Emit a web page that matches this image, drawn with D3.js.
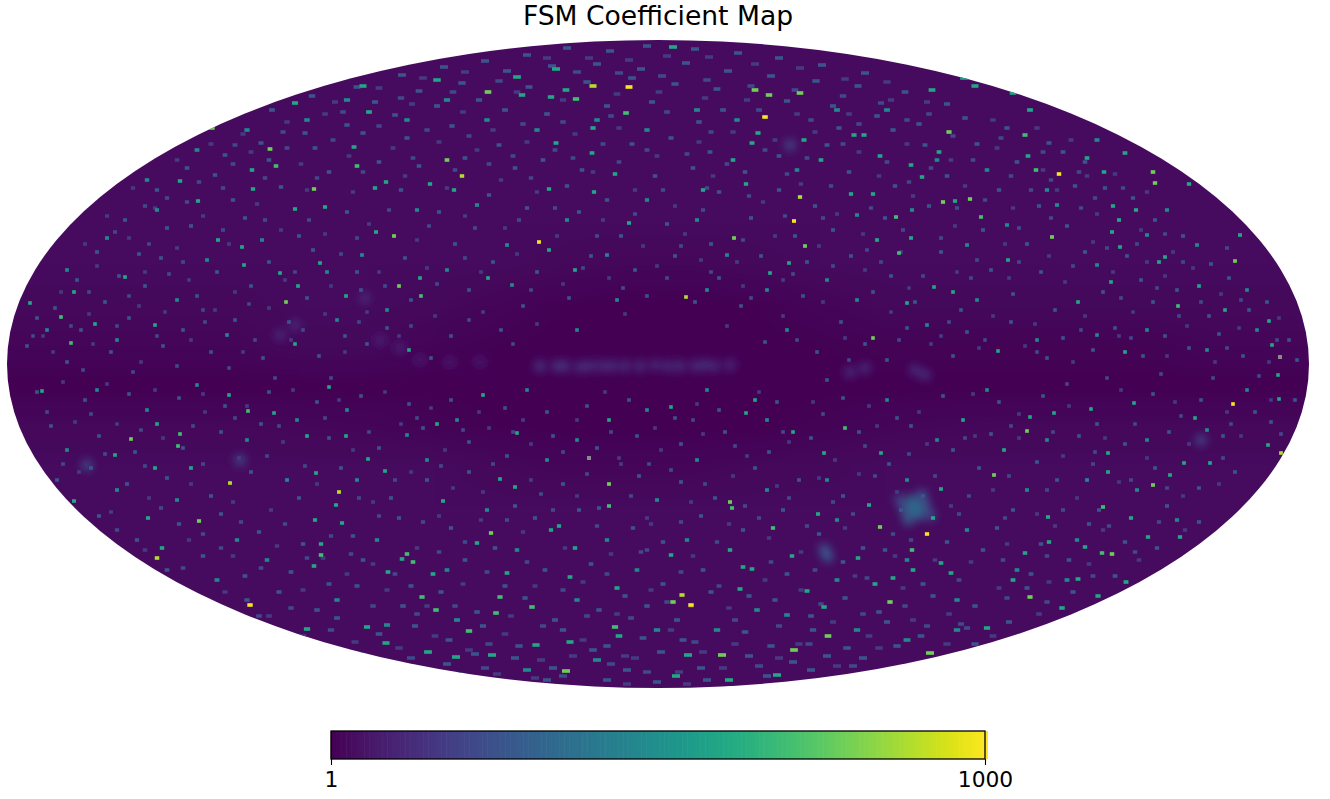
<!DOCTYPE html>
<html><head><meta charset="utf-8">
<script src="https://cdn.jsdelivr.net/npm/d3@7"></script>
<style>html,body{margin:0;background:#fff}svg{display:block}text{font-family:"DejaVu Sans",sans-serif;fill:#000}</style>
</head><body><svg id="c" width="1330" height="799"></svg>
<script>
const titleText = "FSM Coefficient Map";
const colorDomain = [1, 1000];
const colorTicks = [1, 1000];
const unseenColor = "#8a8a8a";
// regional mean coefficient: 16 latitude rows x 20 longitude columns
const regionalMean = [
[1.25,1.25,1.25,1.25,1.25,1.25,1.25,1.25,1.25,1.25,1.25,1.25,1.25,1.25,1.25,1.25,1.25,1.25,1.25,1.25],
[1.25,1.25,1.25,1.25,1.25,1.25,1.25,1.25,1.25,1.25,1.25,1.25,1.25,1.25,1.25,1.25,1.25,1.25,1.25,1.25],
[1.25,1.25,1.25,1.25,1.25,1.25,1.25,1.25,1.25,1.25,1.25,1.25,1.25,1.25,1.25,1.25,1.25,1.25,1.25,1.25],
[1.25,1.25,1.25,1.25,1.25,1.25,1.25,1.25,1.25,1.25,1.25,1.25,1.25,1.25,1.25,1.25,1.25,1.25,1.25,1.25],
[1.25,1.25,1.25,1.25,1.25,1.25,1.25,1.25,1.25,1.25,1.25,1.25,1.25,1.25,1.25,1.25,1.25,1.25,1.25,1.25],
[1.25,1.25,1.25,1.25,1.25,1.25,1.25,1.25,1.2,1.15,1.15,1.2,1.25,1.25,1.25,1.25,1.25,1.25,1.25,1.25],
[1.2,1.2,1.2,1.2,1.25,1.25,1.2,1.1,1.02,1,1,1.02,1.1,1.2,1.2,1.2,1.2,1.2,1.2,1.2],
[1.12,1.12,1.12,1.12,1.2,1.2,1.08,1.02,1,1,1,1,1.02,1.06,1.06,1.06,1.06,1.06,1.12,1.12],
[1,1,1,1,1,1,1,1,1,1,1,1,1,1,1,1,1,1,1,1],
[1.18,1.18,1.18,1.18,1.14,1.12,1.06,1.02,1,1,1,1,1.06,1.12,1.14,1.18,1.18,1.18,1.18,1.18],
[1.25,1.25,1.25,1.25,1.25,1.25,1.25,1.18,1.12,1.12,1.12,1.18,1.2,1.25,1.25,1.25,1.25,1.25,1.25,1.25],
[1.25,1.25,1.25,1.25,1.25,1.25,1.25,1.25,1.25,1.25,1.25,1.25,1.25,1.25,1.25,1.25,1.25,1.25,1.25,1.25],
[1.25,1.25,1.25,1.25,1.25,1.25,1.25,1.25,1.25,1.25,1.25,1.25,1.25,1.25,1.25,1.25,1.25,1.25,1.25,1.25],
[1.25,1.25,1.25,1.25,1.25,1.25,1.25,1.25,1.25,1.25,1.25,1.25,1.25,1.25,1.25,1.25,1.25,1.25,1.25,1.25],
[1.25,1.25,1.25,1.25,1.25,1.25,1.25,1.25,1.25,1.25,1.25,1.25,1.25,1.25,1.25,1.25,1.25,1.25,1.25,1.25],
[1.25,1.25,1.25,1.25,1.25,1.25,1.25,1.25,1.25,1.25,1.25,1.25,1.25,1.25,1.25,1.25,1.25,1.25,1.25,1.25]];
// point sources in map units (0..1302, 0..648)
const peakSources = [[622,47],[532,202],[758,77],[1052,134],[787,181],[920,494],[684,565],[1226,364],[243,565]];
const brightSources = [[586,46],[455,136],[793,157],[675,555],[1274,413],[223,443],[332,452],[150,518],[679,257]];
const greenSources = [[481,52],[440,120],[387,196],[392,246],[307,149],[263,109],[205,88],[279,262],[748,50],[762,55],[793,53],[942,92],[727,198],[798,206],[936,162],[963,159],[1045,197],[1228,221],[866,298],[1146,132],[1148,143],[124,399],[192,481],[484,493],[602,444],[559,631],[723,462],[666,562],[873,487],[1020,391],[987,435],[1146,445],[1105,514],[1023,557],[883,562],[821,596],[787,610],[715,615],[923,613]];
const tealGreenSources = [[414,256],[269,126],[350,126],[569,59],[892,213],[241,371],[173,394],[171,406],[602,466],[838,388],[1096,467],[905,510],[400,514],[406,522],[314,515],[493,557],[462,591],[608,587],[1171,266],[889,177],[974,177],[1029,130],[1018,95],[54,277],[64,303],[525,567],[489,573],[429,570],[415,557],[1095,513],[766,488],[725,468],[619,73]];
const tealSources = [[549,103],[585,113],[542,149],[587,152],[622,183],[608,134],[549,29],[510,37],[430,40],[515,55],[559,50],[544,57],[586,88],[347,107],[245,130],[246,149],[173,141],[191,161],[211,200],[235,207],[313,223],[368,148],[379,142],[423,144],[447,150],[369,192],[542,210],[568,230],[481,238],[413,238],[339,256],[291,246],[273,233],[237,225],[118,237],[67,252],[23,263],[88,284],[148,285],[288,304],[402,310],[288,169],[318,167],[362,72],[288,63],[356,46],
[666,7],[857,95],[847,95],[925,50],[873,116],[932,112],[751,93],[797,100],[1097,132],[1118,113],[1182,144],[948,161],[1105,192],[1106,166],[1129,170],[1233,195],[1112,180],[1113,207],[1104,242],[1152,222],[1158,217],[1001,220],[946,252],[927,247],[900,263],[782,223],[763,233],[696,150],[739,144],[870,200],[904,198],[1071,262],[1192,246],[1218,270],[1262,281],[1265,305],[991,311],[1118,312],[957,38],[968,46],[1023,70],[1006,53],[1021,116],[1080,118],[844,154],[866,154],[915,137],[904,125],[726,120],[745,103],[814,120],
[150,384],[322,347],[222,355],[141,478],[308,480],[329,465],[335,483],[430,384],[436,461],[470,503],[552,486],[508,447],[493,439],[155,508],[314,504],[307,526],[395,519],[381,532],[426,534],[612,596],[563,602],[529,605],[485,615],[421,612],[379,603],[360,587],[300,589],[67,461],[148,428],[108,415],[184,428],[309,433],[378,431],[361,419],[339,396],[300,396],[267,373],[35,351],[476,355],[602,380],[510,393],[568,508],[544,490],[500,533],[563,537],[610,548],[449,617],
[926,478],[811,474],[723,510],[733,549],[745,529],[736,527],[785,516],[786,392],[956,380],[1047,373],[1127,363],[1272,359],[1261,405],[1163,435],[1101,432],[1041,477],[1124,478],[1071,539],[1091,556],[1055,568],[1018,513],[934,449],[862,465],[886,538],[868,544],[851,518],[800,551],[817,567],[669,636],[722,640],[770,635],[874,413],[817,413],[739,373],[664,367],[748,360],[1023,377],[1084,369],[1271,335],[1188,378],[997,410],[1101,413],[1177,423],[1203,423],[1042,502],[1078,507],[1141,497],[1173,497],[934,523],[664,515],[906,530],[944,533],[1119,542],[1006,540],[980,588],[681,615]];
const blueSources = [[100,198],[150,170],[200,220],[255,200],[320,232],[355,215],[410,170],[470,165],[500,205],[560,180],[600,215],[640,160],[690,180],[720,215],[760,250],[820,240],[850,175],[905,170],[960,205],[1000,185],[1050,165],[1090,225],[1140,195],[1190,205],[1240,250],[60,230],[40,290],[110,300],[170,260],[220,295],[330,280],[380,270],[440,230],[505,245],[570,290],[610,260],[700,250],[780,290],[850,260],[920,285],[970,260],[1030,300],[1090,295],[1140,290],[1200,310],[1250,290],[100,120],[140,140],[190,110],[240,90],[300,80],[340,60],[400,80],[440,60],[480,80],[530,90],[590,80],[640,90],[690,70],[730,80],[790,130],[830,70],[880,70],[930,120],[980,130],[1040,150],[1090,100],[1160,170],
[90,350],[140,370],[190,345],[240,400],[290,380],[340,370],[400,395],[450,380],[520,350],[570,400],[640,370],[700,350],[760,380],[820,440],[880,360],[930,400],[980,350],[1040,400],[1080,440],[1140,400],[1200,390],[1240,350],[60,410],[110,450],[170,460],[230,500],[280,440],[350,440],[420,420],[480,470],[540,420],[600,500],[650,460],[690,420],[760,450],[830,480],[900,440],[960,490],[1020,450],[1070,500],[1130,450],[1170,480],[210,540],[260,520],[330,560],[370,500],[440,530],[510,510],[570,560],[630,530],[680,500],[750,570],[830,540],[900,520],[950,560],[1010,530],[1060,540],[300,600],[380,585],[450,580],[520,630],[590,620],[650,590],[710,590],[780,575],[850,590],[900,600],[950,590]];
// dim speckle, estimated by eye row by row across the sky
const dimSources = [
[560,8],[603,11],[640,6],[688,9],[731,13],[772,18],[520,15],[478,21],[437,27],[815,25],[858,33],[395,35],
[500,31],[545,26],[590,24],[634,29],[679,23],[721,31],[764,36],[809,41],[851,46],[898,52],[350,47],[305,56],[455,43],[412,51],[368,62],[940,64],[265,70],
[580,42],[625,38],[668,44],[710,49],[522,47],[472,60],[430,66],[388,75],[340,85],[298,93],[254,103],[218,115],[780,61],[826,66],[870,76],[912,84],[958,78],[1000,88],[1042,103],[1078,122],[180,128],
[498,70],[540,74],[600,66],[645,62],[692,82],[716,70],[832,88],[886,90],[918,105],[970,104],[1010,122],[1056,112],[1098,148],[1126,158],[150,150],[208,135],[262,120],[308,108],[356,93],[400,98],[445,86],[492,105],[536,120],[575,130],[625,104],[664,98],[703,112],[738,132],[772,116],[820,105],
[118,180],[160,188],[226,160],[274,147],[322,132],[372,122],[412,126],[458,118],[508,128],[560,146],[600,160],[648,136],[686,128],[712,152],[772,150],[808,166],[842,132],[888,146],[940,136],[992,150],[1032,166],[1068,146],[1148,180],[1176,196],[90,212],[132,214],[184,186],[238,178],[292,196],[340,172],[394,150],[432,172],[482,155],[520,168],[572,172],[614,196],[660,184],[704,204],[744,178],[788,196],[826,190],[878,178],[922,166],[976,190],[1020,204],[1060,186],[1120,216],[1204,224],
[70,240],[112,236],[154,218],[210,232],[262,222],[306,210],[350,232],[398,218],[448,204],[486,222],[530,232],[584,216],[628,230],[668,216],[712,238],[754,216],[800,222],[844,216],[884,236],[934,212],[984,230],[1034,232],[1078,212],[1134,240],[1170,250],[1222,238],[48,268],[98,262],[138,246],[190,256],[244,246],[300,258],[354,250],[404,260],[462,250],[516,266],[562,258],[640,256],[688,262],[734,266],[796,256],[834,282],[866,252],[908,262],[954,270],[1006,254],[1048,270],[1096,252],[1146,262],[1202,276],[1242,270],
[30,278],[74,290],[122,278],[176,290],[228,280],[282,282],[338,296],[380,288],[444,296],[494,290],[758,302],[810,312],[858,304],[900,288],[960,292],[1004,282],[1056,298],[1108,288],[1158,296],[1212,294],[1260,262],[1282,300],[20,306],[60,322],[104,312],[156,306],[204,312],[256,318],[312,316],[360,304],[424,318],[820,340],[880,320],[946,316],[1040,318],[1086,310],[1136,316],[1182,308],[1236,316],[1290,320],
[30,352],[78,360],[122,354],[172,358],[218,366],[262,352],[310,362],[354,356],[402,364],[444,360],[498,368],[540,372],[580,366],[622,360],[668,378],[712,370],[770,362],[836,358],[890,378],[936,356],[992,362],[1036,356],[1090,384],[1146,354],[1194,360],[1248,372],[1288,360],
[44,386],[92,396],[128,412],[176,408],[214,392],[254,384],[322,398],[372,408],[416,388],[462,402],[500,416],[546,396],[590,408],[630,396],[674,404],[718,392],[762,412],[804,398],[852,392],[904,386],[946,410],[984,394],[1030,422],[1072,396],[1118,404],[1162,392],[1216,396],[1264,382],
[50,440],[84,428],[120,444],[160,438],[204,456],[244,432],[292,458],[334,428],[384,458],[420,440],[462,432],[508,466],[556,444],[592,468],[632,436],[674,442],[708,458],[748,428],[792,440],[836,456],[882,424],[916,456],[972,428],[1006,470],[1050,440],[1092,470],[1148,428],[1192,448],[1228,432],
[92,476],[130,500],[172,484],[214,474],[252,492],[296,504],[346,496],[392,478],[444,488],[488,508],[528,478],[572,470],[626,488],[656,502],[694,476],[736,490],[776,470],[812,494],[856,508],[894,470],[940,502],[990,488],[1034,504],[1082,484],[1118,502],[1160,466],[1192,482],
[160,530],[196,516],[238,536],[284,532],[322,544],[356,520],[404,546],[458,520],[498,546],[538,530],[584,524],[618,556],[656,544],[696,530],[742,556],[780,534],[836,522],[878,510],[916,544],[976,510],[1020,548],[1062,520],[1108,536],[1150,508],
[240,560],[272,552],[310,570],[350,546],[396,566],[434,552],[470,572],[518,558],[548,580],[592,570],[640,566],[670,580],[704,552],[768,560],[804,576],[838,558],[880,582],[926,556],[968,566],[1024,534],[1066,552],
[330,578],[372,594],[408,586],[442,600],[476,586],[512,606],[556,590],[600,606],[636,598],[676,600],[738,592],[764,606],[806,590],[840,608],[872,572],[914,596],[968,604],[1002,582],
[440,624],[468,614],[508,618],[546,628],[586,610],[620,630],[654,612],[694,628],[742,616],[786,622],[820,616],[856,618],[890,606],
[540,640],[600,640],[650,642],[700,640],[760,636],[804,630]];
const faintestSources = [
[540,18],[582,18],[622,20],[660,16],[702,17],[748,24],[793,28],[458,32],[416,38],[838,39],[880,42],[372,48],[328,62],[920,62],
[510,52],[556,60],[610,54],[652,52],[698,58],[740,60],[790,74],[842,74],[884,60],[280,82],[318,74],[236,94],[405,64],[456,72],[486,90],[986,80],[1030,88],[1064,100],[204,104],
[170,120],[126,148],[244,112],[294,124],[342,116],[386,108],[432,102],[470,110],[520,102],[568,94],[612,88],[650,116],[692,102],[726,92],[768,100],[808,92],[852,112],[900,104],[944,120],[990,108],[1036,130],[1080,136],[1108,134],[1140,152],
[100,176],[148,168],[196,176],[250,164],[300,150],[346,152],[398,136],[440,148],[494,140],[530,152],[586,132],[628,150],[668,166],[706,136],[756,162],[794,144],[830,174],[872,136],[906,156],[958,146],[1006,168],[1050,150],[1090,174],[1134,190],[1166,212],
[78,204],[122,198],[170,208],[222,204],[274,190],[318,194],[362,184],[410,200],[458,176],[498,188],[550,196],[596,180],[636,206],[678,194],[730,222],[768,196],[812,206],[856,194],[894,212],[948,186],[998,204],[1042,216],[1086,202],[1140,222],[1186,228],
[54,252],[90,226],[138,232],[182,240],[228,252],[278,240],[324,246],[372,232],[420,228],[474,232],[510,214],[556,244],[602,238],[650,226],[694,220],[736,246],[776,240],[816,262],[858,230],[902,248],[950,232],[1002,238],[1058,242],[1106,232],[1158,236],[1214,254],
[36,296],[82,274],[132,266],[158,272],[208,270],[262,268],[318,274],[360,272],[428,276],[476,272],[530,284],[618,274],[720,286],[776,276],[838,298],[884,272],[934,296],[986,276],[1028,284],[1078,276],[1126,272],[1180,286],[1232,288],[1272,278],
[46,312],[86,304],[134,322],[184,300],[236,312],[284,300],[338,312],[392,296],[924,304],[972,308],[1018,306],[1066,322],[1112,296],[1160,316],[1208,322],[1262,322],
[56,342],[100,344],[148,350],[196,354],[240,366],[286,350],[332,360],[378,352],[424,368],[472,372],[516,380],[598,352],[648,388],[690,364],[752,352],[806,362],[862,366],[912,372],[966,354],[1012,374],[1062,366],[1114,350],[1168,362],[1220,372],[1264,360],
[68,382],[110,384],[156,398],[198,372],[232,418],[276,402],[346,410],[394,384],[438,410],[482,388],[524,404],[570,380],[612,418],[654,410],[696,394],[740,416],[782,402],[828,420],[870,386],[920,404],[968,396],[1012,398],[1056,416],[1098,398],[1140,418],[1182,404],[1234,396],
[72,432],[104,472],[142,458],[184,444],[226,462],[264,470],[310,444],[366,462],[404,432],[446,448],[476,452],[524,440],[570,456],[614,424],[640,478],[684,462],[726,436],[770,446],[812,438],[852,434],[890,452],[944,466],[986,450],[1030,474],[1070,458],[1112,442],[1176,456],[1212,444],
[138,510],[182,500],[226,516],[270,506],[316,518],[366,524],[410,508],[432,476],[474,480],[516,492],[558,508],[604,514],[644,484],[686,516],[722,484],[762,498],[794,512],[838,488],[888,516],[928,520],[964,522],[1000,504],[1048,486],[1096,490],[1132,520],[1178,490],
[218,552],[262,576],[296,550],[340,534],[380,550],[420,566],[456,544],[504,576],[528,546],[576,542],[610,574],[644,550],[684,566],[722,568],[758,540],[794,550],[848,536],[896,548],[942,574],[992,548],[1042,542],[1082,524],
[296,596],[348,602],[392,608],[428,596],[462,610],[498,594],[534,620],[576,600],[618,616],[664,590],[696,612],[728,604],[792,604],[826,582],[862,596],[906,580],[940,604],[986,596],[1032,574],
[490,634],[528,638],[566,616],[628,618],[672,632],[716,628],[772,618],[830,626],[872,608],[680,644],[620,644]];
const midSpeckleSources = [
[570,32],[612,33],[655,36],[700,40],[744,46],[492,41],[446,52],[394,58],[336,72],[788,50],[836,56],[874,63],[922,74],[276,92],[228,105],
[516,84],[556,82],[604,76],[660,72],[704,92],[752,70],[804,80],[852,84],[900,80],[946,96],[994,98],[1036,112],[1072,132],[192,142],[160,158],[226,124],[280,108],[326,100],[372,86],[420,90],[462,96],[506,116],[548,110],[596,104],[640,110],[680,114],[720,124],[758,110],[800,118],[836,104],[880,122],[924,128],[966,120],[1004,136],[1044,140],[1088,158],
[138,166],[180,162],[216,148],[258,138],[310,138],[356,132],[406,118],[448,130],[482,124],[524,138],[566,118],[612,122],[656,150],[700,148],[742,156],[780,134],[824,146],[864,168],[902,142],[950,168],[978,160],[1024,150],[1074,168],[1116,148],[1158,194],
[108,192],[142,204],[176,222],[216,190],[258,180],[302,180],[350,198],[382,170],[422,186],[468,188],[512,180],[548,168],[590,196],[628,174],[674,206],[696,170],[736,200],[778,176],[816,178],[860,210],[896,190],[934,198],[970,220],[1012,188],[1044,178],[1100,208],[1130,204],[1176,222],[1220,208],
[82,252],[122,256],[162,234],[196,270],[242,264],[288,232],[334,214],[378,246],[430,244],[458,218],[524,250],[576,228],[616,248],[660,238],[704,232],[744,258],[786,234],[826,226],[874,222],[916,236],[964,238],[1012,222],[1066,226],[1114,258],[1150,248],[1194,262],[1234,260],
[26,296],[64,286],[110,286],[150,296],[198,282],[248,300],[296,290],[352,282],[404,286],[462,280],[506,304],[790,300],[842,320],[892,300],[942,282],[978,300],[1030,312],[1074,290],[1124,298],[1172,276],[1220,308],[1270,300],[76,330],[126,332],[170,326],[222,328],[268,338],[324,338],[1060,344],[1100,338],[1154,334],[1206,338],[1252,336],
[40,372],[84,374],[134,390],[186,386],[228,378],[272,386],[318,378],[362,392],[410,378],[456,390],[506,392],[556,412],[604,392],[642,424],[686,380],[728,406],[776,392],[816,374],[858,406],[902,414],[958,398],[1004,386],[1046,392],[1088,412],[1128,384],[1174,376],[1224,384],[1274,394],
[56,424],[98,414],[138,426],[196,424],[260,416],[298,426],[352,458],[388,440],[434,426],[486,424],[534,454],[580,434],[624,456],[664,430],[698,444],[738,466],[782,458],[826,462],[868,436],[928,436],[962,456],[1002,436],[1040,450],[1086,424],[1124,440],[1160,448],[1216,418],
[110,490],[154,468],[196,494],[234,482],[278,484],[324,496],[372,476],[416,482],[458,502],[500,480],[546,470],[590,486],[634,512],[674,482],[710,502],[752,478],[800,486],[846,474],[886,494],[952,474],[998,478],[1056,470],[1102,486],[1152,482],
[176,528],[214,508],[254,528],[300,518],[344,514],[388,534],[432,512],[480,532],[520,522],[556,550],[600,534],[640,510],[674,532],[712,546],[764,522],[808,530],[860,538],[904,500],[952,540],[996,520],[1040,516],[1086,536],[1128,512],
[252,576],[284,568],[324,590],[366,566],[410,574],[448,566],[482,604],[536,586],[580,576],[624,578],[660,562],[728,580],[772,586],[814,564],[856,574],[898,566],[954,584],[1000,558],[1040,562],
[352,614],[404,618],[452,634],[478,628],[556,636],[604,624],[640,632],[688,602],[752,626],[802,604],[846,626],[920,586],[960,588]];
const sourceLevels = [6, 3.2, 4.5, 25, 60, 120, 220, 450, 900];
// gray cells: unseen pixels
const unseenSources = [[582,418],[1273,317]];
// diffuse emission in map units with coefficient
const diffuseEmission = [[533,326,3],[550,326,3],[558,326,2.6],[573,327,2.6],[583,326,2.6],[595,326,2.4],[605,326,2.6],[618,326,2.6],[633,326,2.6],[648,325,2.4],[661,326,2.4],[673,326,2.6],[688,326,2.4],[698,325,2.6],[708,326,2.3],[723,325,2.3],
[843,332,2.4],[858,328,2.4],[908,330,2.4],[918,335,2.4],[273,295,2.2],[288,285,2.2],[358,258,2.2],[373,300,2],[393,308,2],[413,320,1.8],[443,322,1.8],[473,322,1.8],
[893,460,5],[923,475,5],[915,455,6],[901,480,7],[918,465,7],[898,470,8],[911,475,11],[905,460,11],[908,468,14],
[817,509,5],[821,517,5],[819,513,7],[80,425,5],[233,420,4.5],[1194,400,4.5],[783,105,4.5]];

const svg = d3.select("#c");
const W = 1302, H = 648;
const x = d3.scaleLinear().domain([0, W]).range([7, 1309]);
const y = d3.scaleLinear().domain([0, H]).range([40, 688]);
const color = d3.scaleSequentialLog(d3.interpolateViridis).domain(colorDomain);
// the viridis ramp is stepped, so the faint regional wash uses a continuous blend of its low end
const washColor = d3.scaleLinear().domain([1, 1.6]).range([color(1), color(1.6)]).interpolate(d3.interpolateRgb);
// HEALPix cells stretch east-west toward the poles of the projection
const cellWidth = d => Math.min(8, 3.6 / Math.sqrt(Math.max(0.02, 1 - ((d - H/2)/(H/2))**2)));

const defs = svg.append("defs");
defs.append("clipPath").attr("id","map").append("ellipse")
  .attr("cx",x(W/2)).attr("cy",y(H/2)).attr("rx",x(W)-x(W/2)).attr("ry",y(H)-y(H/2));
defs.append("filter").attr("id","soft").attr("x","-50%").attr("y","-50%").attr("width","200%").attr("height","200%")
  .append("feGaussianBlur").attr("stdDeviation",4);
defs.append("filter").attr("id","px").attr("x","-2%").attr("y","-2%").attr("width","104%").attr("height","104%")
  .append("feGaussianBlur").attr("stdDeviation",0.45);

svg.append("text").attr("x",658).attr("y",25).attr("text-anchor","middle").style("font-size","26.6px").text(titleText);

const map = svg.append("g").attr("clip-path","url(#map)");
const rowsN = regionalMean.length, colsN = regionalMean[0].length;
const cv = document.createElement("canvas");
cv.width = colsN; cv.height = rowsN;
const cx = cv.getContext("2d");
regionalMean.forEach((row,r)=>row.forEach((v,c)=>{cx.fillStyle = washColor(v); cx.fillRect(c,r,1,1);}));
map.append("image").attr("href",cv.toDataURL()).attr("x",x(0)).attr("y",y(0))
  .attr("width",x(W)-x(0)).attr("height",y(H)-y(0)).attr("preserveAspectRatio","none");
map.append("g").attr("filter","url(#soft)").selectAll("circle").data(diffuseEmission).join("circle")
  .attr("cx",d=>x(d[0])).attr("cy",d=>y(d[1])).attr("r",5.5).attr("fill",d=>color(d[2]));
const groups = [dimSources,faintestSources,midSpeckleSources,blueSources,tealSources,tealGreenSources,greenSources,brightSources,peakSources];
const pts = groups.flatMap((g,i)=>g.map(p=>({p,v:sourceLevels[i]})));
map.append("g").attr("filter","url(#px)").selectAll("rect").data(pts).join("rect")
  .attr("x",d=>x(d.p[0])-cellWidth(d.p[1])/2).attr("y",d=>y(d.p[1])-1.8).attr("width",d=>cellWidth(d.p[1])).attr("height",3.6).attr("fill",d=>color(d.v));
map.append("g").selectAll("rect").data(unseenSources).join("rect")
  .attr("x",d=>x(d[0])-2).attr("y",d=>y(d[1])-2).attr("width",4).attr("height",4).attr("fill",unseenColor);

// colour bar
const bx = d3.scaleLog().domain(colorDomain).range([331,985]);
const steps = d3.range(0,256).map(i=>10**(3*i/255));
svg.append("g").selectAll("rect").data(steps).join("rect")
  .attr("x",d=>bx(d)-0.2).attr("y",731).attr("width",654/255+0.6).attr("height",28).attr("fill",d=>color(d));
svg.append("rect").attr("x",331).attr("y",731).attr("width",654).attr("height",28).attr("fill","none").attr("stroke","#000").attr("stroke-width",1.3);
const ax = d3.axisBottom(bx).tickValues(colorTicks).tickFormat(d3.format("d")).tickSize(6).tickPadding(7);
const ag = svg.append("g").attr("transform","translate(0,759)").call(ax);
ag.select(".domain").remove();
ag.selectAll("line").attr("stroke","#000").attr("stroke-width",1.1);
ag.selectAll("text").style("font-size","21.8px").attr("fill","#000");
</script></body></html>
